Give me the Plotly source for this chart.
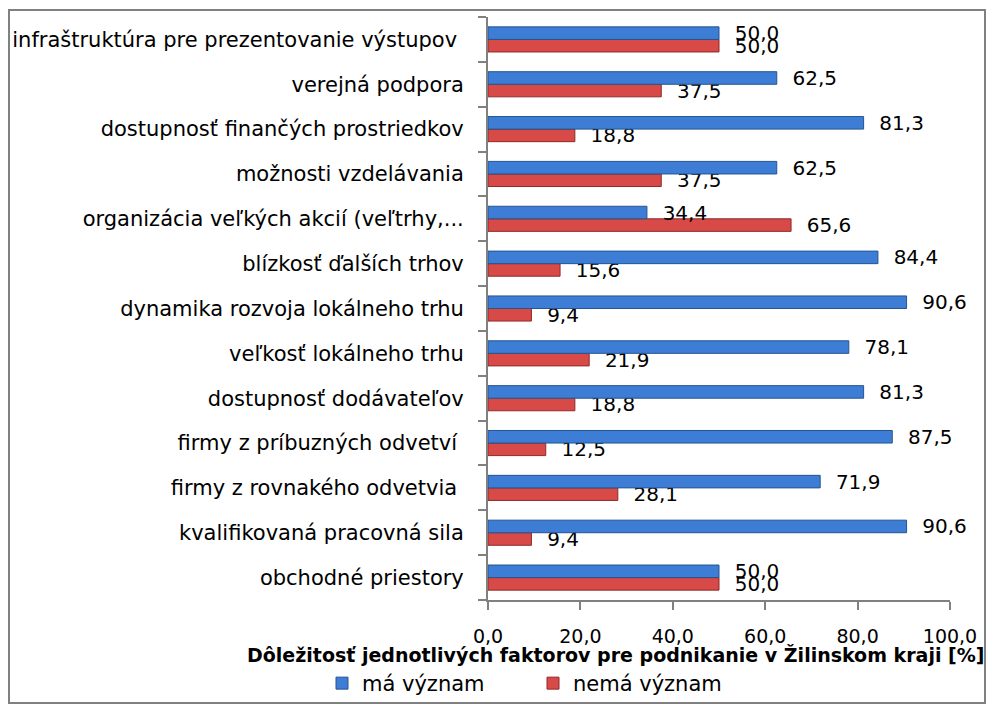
import plotly.graph_objects as go

categories = [
    "obchodné priestory",
    "kvalifikovaná pracovná sila",
    "firmy z rovnakého odvetvia ",
    "firmy z príbuzných odvetví ",
    "dostupnosť dodávateľov",
    "veľkosť lokálneho trhu",
    "dynamika rozvoja lokálneho trhu",
    "blízkosť ďalších trhov",
    "organizácia veľkých akcií (veľtrhy,...",
    "možnosti vzdelávania",
    "dostupnosť finančých prostriedkov",
    "verejná podpora",
    "infraštruktúra pre prezentovanie výstupov ",
]
ma_vyznam = [50.0, 90.6, 71.9, 87.5, 81.3, 78.1, 90.6, 84.4, 34.4, 62.5, 81.3, 62.5, 50.0]
nema_vyznam = [50.0, 9.4, 28.1, 12.5, 18.8, 21.9, 9.4, 15.6, 65.6, 37.5, 18.8, 37.5, 50.0]
x_ticks = [0, 20, 40, 60, 80, 100]

def fmt(v):
    return "\u00a0\u00a0" + f"{v:.1f}".replace(".", ",")

FONT = "DejaVu Sans"
W, H = 987, 704
L, R, T, B = 488, 950, 17, 600

def fx(x):
    return x / W

def fy(y):
    return 1 - y / H

fig = go.Figure()
fig.add_trace(go.Bar(
    y=categories, x=nema_vyznam, orientation="h", name="nemá význam",
    marker=dict(color="#D84A47", line=dict(color="#8E2B28", width=1)),
    text=[fmt(v) for v in nema_vyznam], textposition="outside", constraintext="none",
    textfont=dict(family=FONT, size=20, color="black"), cliponaxis=False,
    legend="legend2",
))
fig.add_trace(go.Bar(
    y=categories, x=ma_vyznam, orientation="h", name="má význam",
    marker=dict(color="#3D7DD6", line=dict(color="#24558F", width=1)),
    text=[fmt(v) for v in ma_vyznam], textposition="outside", constraintext="none",
    textfont=dict(family=FONT, size=20, color="black"), cliponaxis=False,
    legend="legend",
))

leg_common = dict(orientation="h", xanchor="left", y=0, yanchor="bottom",
                  font=dict(family=FONT, size=21), itemwidth=30,
                  bgcolor="rgba(0,0,0,0)", borderwidth=0)

fig.update_layout(
    width=W, height=H,
    margin=dict(l=0, r=0, t=0, b=0),
    paper_bgcolor="white", plot_bgcolor="white",
    barmode="group", bargap=0.44, bargroupgap=0,
    separators=", ",
    font=dict(family=FONT, size=17, color="black"),
    showlegend=True,
    legend=dict(x=fx(322), **leg_common),
    legend2=dict(x=fx(533), **leg_common),
    xaxis=dict(domain=[fx(L), fx(R)], range=[0, 100], tickvals=x_ticks, tickformat=".1f",
               automargin=False,
               showgrid=False, zeroline=False, showline=True, linecolor="#808080", linewidth=2,
               ticks="outside", ticklen=8, tickcolor="#808080", tickwidth=2,
               ticklabelstandoff=10, tickfont=dict(family=FONT, size=19)),
    yaxis=dict(domain=[fy(B), fy(T)],
               showgrid=False, zeroline=False, showline=True, linecolor="#808080", linewidth=2,
               ticks="outside", ticklen=8, tickcolor="#808080", tickwidth=2, automargin=False,
               tickson="boundaries", ticklabelstandoff=18,
               tickfont=dict(family=FONT, size=21)),
    annotations=[dict(
        text="<b>Dôležitosť jednotlivých faktorov pre podnikanie v Žilinskom kraji [%]</b>",
        xref="paper", yref="paper", x=fx(615), y=fy(655), xanchor="center", yanchor="middle",
        showarrow=False, font=dict(family=FONT, size=19, color="black"))],
    shapes=[dict(type="rect", xref="paper", yref="paper",
                 x0=fx(9), x1=fx(985), y0=fy(703), y1=fy(10),
                 line=dict(color="#808080", width=2), fillcolor="rgba(0,0,0,0)", layer="below")],
)

fig.write_html("out.html", config={"displayModeBar": False},
               post_script="document.body.style.margin='0px';")
